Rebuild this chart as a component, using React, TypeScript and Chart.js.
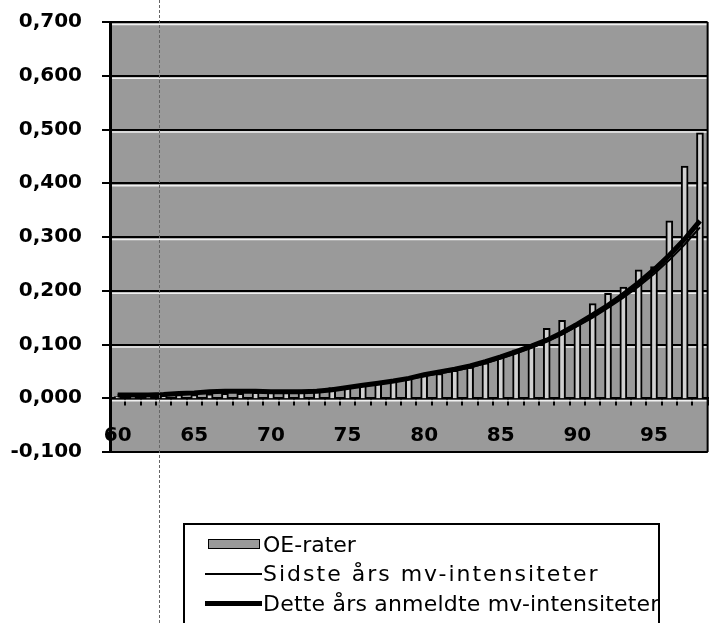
import React, { useEffect, useRef } from 'react';
import { Chart, registerables } from 'chart.js';

Chart.register(...registerables);

const categories = [
  '60', '61', '62', '63', '64', '65', '66', '67', '68', '69',
  '70', '71', '72', '73', '74', '75', '76', '77', '78', '79',
  '80', '81', '82', '83', '84', '85', '86', '87', '88', '89',
  '90', '91', '92', '93', '94', '95', '96', '97', '98',
];

const oeRater = [
  0.003, 0.004, 0.004, 0.005, 0.006, 0.006, 0.008, 0.009, 0.009, 0.011,
  0.012, 0.013, 0.015, 0.017, 0.020, 0.022, 0.026, 0.029, 0.033, 0.037,
  0.042, 0.046, 0.052, 0.058, 0.066, 0.078, 0.090, 0.098, 0.130, 0.145,
  0.139, 0.176, 0.195, 0.207, 0.239, 0.245, 0.330, 0.432, 0.494,
];

const sidsteAarsIntensiteter = [
  0.006, 0.007, 0.007, 0.008, 0.010, 0.011, 0.012, 0.013, 0.013, 0.013,
  0.012, 0.012, 0.013, 0.014, 0.016, 0.019, 0.023, 0.027, 0.031, 0.036,
  0.041, 0.046, 0.051, 0.057, 0.065, 0.074, 0.083, 0.094, 0.106, 0.119,
  0.134, 0.150, 0.168, 0.187, 0.208, 0.231, 0.257, 0.286, 0.318,
];

const detteAarsIntensiteter = [
  0.006, 0.006, 0.006, 0.007, 0.009, 0.010, 0.012, 0.013, 0.013, 0.013,
  0.012, 0.012, 0.012, 0.013, 0.016, 0.020, 0.024, 0.028, 0.032, 0.037,
  0.044, 0.049, 0.054, 0.060, 0.068, 0.077, 0.087, 0.097, 0.108, 0.122,
  0.138, 0.155, 0.173, 0.193, 0.215, 0.239, 0.266, 0.296, 0.330,
];

const yMin = -0.1;
const yMax = 0.7;
const yStep = 0.1;
const xLabelEvery = 5;

const legendItems = [
  { label: 'OE-rater', kind: 'bar', spacing: 0 },
  { label: 'Sidste års mv-intensiteter', kind: 'thin', spacing: 2 },
  { label: 'Dette års anmeldte mv-intensiteter', kind: 'thick', spacing: 0.2 },
];

const FONT = '"DejaVu Sans", Verdana, sans-serif';
const PLOT_BG = '#9a9a9a';
const BAR_FILL = '#d0d0d0';

const fmtTick = (v: number) => {
  const r = Math.round(v * 1000) / 1000;
  return (Object.is(r, -0) || r === 0 ? 0 : r).toFixed(3).replace('.', ',');
};

export default function App() {
  const ref = useRef<HTMLCanvasElement | null>(null);

  useEffect(() => {
    if (!ref.current) return;
    Chart.defaults.font.family = FONT;

    const plotDecor = {
      id: 'plotDecor',
      beforeDraw(chart: any) {
        const { ctx, chartArea: a } = chart;
        ctx.save();
        ctx.fillStyle = PLOT_BG;
        ctx.fillRect(a.left, a.top, a.right - a.left, a.bottom - a.top);
        ctx.restore();
      },
      beforeDatasetsDraw(chart: any) {
        const { ctx, chartArea: a } = chart;
        const ys = chart.scales.y;
        ctx.save();
        ctx.strokeStyle = 'rgba(255,255,255,0.85)';
        ctx.lineWidth = 1.5;
        ys.ticks.forEach((t: any) => {
          const py = ys.getPixelForValue(t.value) + 2.5;
          if (py < a.bottom - 2) {
            ctx.beginPath();
            ctx.moveTo(a.left + 2, py);
            ctx.lineTo(a.right, py);
            ctx.stroke();
          }
        });
        ctx.restore();
      },
      afterDraw(chart: any) {
        const { ctx, chartArea: a } = chart;
        ctx.save();
        ctx.strokeStyle = '#000';
        ctx.lineWidth = 2;
        ctx.beginPath();
        ctx.moveTo(a.right, a.top);
        ctx.lineTo(a.right, a.bottom);
        ctx.moveTo(a.left, a.bottom);
        ctx.lineTo(a.right, a.bottom);
        ctx.stroke();
        ctx.restore();
      },
    };

    const chart = new Chart(ref.current, {
      type: 'bar',
      data: {
        labels: categories,
        datasets: [
          {
            type: 'bar',
            label: legendItems[0].label,
            data: oeRater,
            backgroundColor: BAR_FILL,
            borderColor: '#000',
            borderWidth: 2,
            barThickness: 7,
            order: 3,
          },
          {
            type: 'line',
            label: legendItems[1].label,
            data: sidsteAarsIntensiteter,
            borderColor: '#000',
            borderWidth: 2,
            pointRadius: 0,
            tension: 0,
            fill: false,
            order: 2,
          },
          {
            type: 'line',
            label: legendItems[2].label,
            data: detteAarsIntensiteter,
            borderColor: '#000',
            borderWidth: 5,
            pointRadius: 0,
            tension: 0,
            fill: false,
            order: 1,
          },
        ],
      } as any,
      options: {
        animation: false,
        responsive: false,
        maintainAspectRatio: false,
        layout: { padding: { top: 22, right: 3, bottom: 171, left: 0 } },
        plugins: {
          legend: { display: false },
          tooltip: { enabled: false },
        },
        scales: {
          x: {
            type: 'category',
            position: { y: 0 } as any,
            offset: true,
            grid: {
              display: true,
              drawOnChartArea: false,
              drawTicks: true,
              tickLength: 6,
              offset: true,
              color: '#000',
              lineWidth: 2,
            },
            border: { display: true, color: '#000', width: 2.5 },
            ticks: {
              autoSkip: false,
              maxRotation: 0,
              minRotation: 0,
              padding: 20,
              color: '#000',
              font: { family: FONT, size: 20, weight: 'bold' },
              callback: (_v: any, i: number) =>
                Number(categories[i]) % xLabelEvery === 0 ? categories[i] : '',
            },
            afterFit: (s: any) => {
              s.height = 0;
            },
          },
          y: {
            min: yMin,
            max: yMax,
            grid: {
              color: '#000',
              lineWidth: 2,
              tickLength: 8,
              drawTicks: true,
            },
            border: { display: true, color: '#000', width: 3 },
            ticks: {
              stepSize: yStep,
              padding: 20,
              color: '#000',
              font: { family: FONT, size: 20, weight: 'bold' },
              callback: (v: any) => fmtTick(Number(v)),
            },
            afterFit: (s: any) => {
              s.width = 110;
              s.paddingTop = 0;
              s.paddingBottom = 0;
            },
          },
        },
      } as any,
      plugins: [plotDecor],
    });

    return () => chart.destroy();
  }, []);

  return (
    <div
      style={{
        position: 'fixed',
        left: 0,
        top: 0,
        width: 720,
        height: 623,
        background: '#fff',
        overflow: 'hidden',
      }}
    >
      <canvas ref={ref} width={720} height={623} style={{ display: 'block', width: 720, height: 623 }} />
      <div
        style={{
          position: 'absolute',
          left: 159,
          top: 0,
          height: 623,
          borderLeft: '1px dashed #666',
          pointerEvents: 'none',
        }}
      />
      <div
        style={{
          position: 'absolute',
          left: 183,
          top: 523,
          width: 473,
          height: 120,
          border: '2px solid #000',
          background: '#fff',
          fontFamily: FONT,
          fontSize: 22,
          color: '#000',
        }}
      >
        {legendItems.map((it, i) => (
          <div
            key={it.label}
            style={{
              position: 'absolute',
              left: 20,
              top: 5 + i * 29.5,
              height: 28,
              display: 'flex',
              alignItems: 'center',
              whiteSpace: 'nowrap',
            }}
          >
            <div style={{ width: 57, display: 'flex', alignItems: 'center' }}>
              {it.kind === 'bar' ? (
                <div
                  style={{
                    marginLeft: 3,
                    width: 50,
                    height: 8,
                    background: PLOT_BG,
                    border: '1.5px solid #000',
                  }}
                />
              ) : (
                <div
                  style={{
                    width: 57,
                    height: it.kind === 'thin' ? 2 : 5,
                    background: '#000',
                  }}
                />
              )}
            </div>
            <span style={{ marginLeft: 1, letterSpacing: it.spacing }}>{it.label}</span>
          </div>
        ))}
      </div>
    </div>
  );
}
